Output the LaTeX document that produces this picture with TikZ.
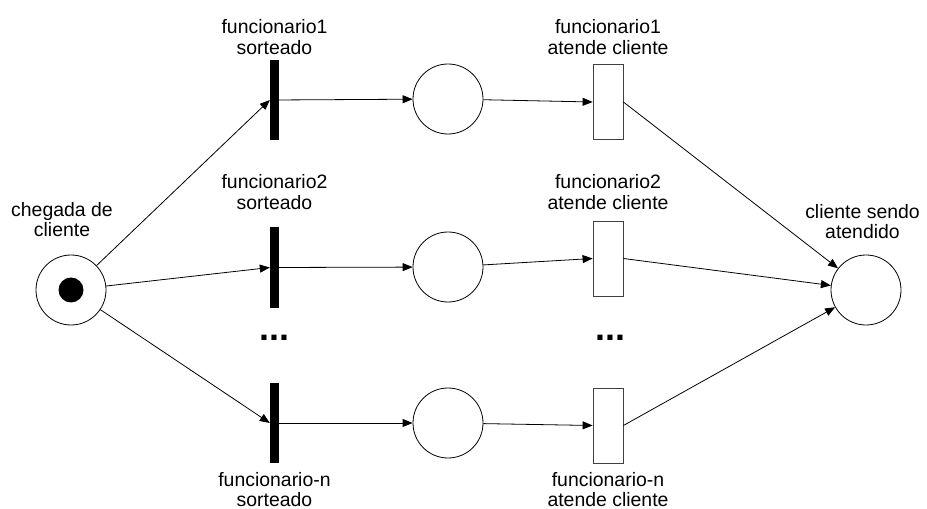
\documentclass[tikz,border=0pt]{standalone}
\usepackage{fontspec}
\setmainfont{Liberation Sans}
\usetikzlibrary{arrows.meta}
\begin{document}
\begin{tikzpicture}[x=1bp,y=-1bp,font=\fontsize{19.5}{20.5}\selectfont,
    >={Triangle[length=10bp,width=8bp]}]

        \useasboundingbox (0,0) rectangle (927,509);

        \begin{scope}[every node/.style={circle,draw,line width=0.8bp,minimum size=70bp,inner sep=0pt}]
          \node (c)  at (71,290)   {};
          \node (p1) at (448,99)   {};
          \node (p2) at (448,267)  {};
          \node (p3) at (448,423)  {};
          \node (s)  at (866,290)  {};
        \end{scope}

        \node[circle,fill,minimum size=25bp,inner sep=0pt] (tok) at (c) {};

        \begin{scope}[every node/.style={fill=black,minimum width=9bp,minimum height=80bp,inner sep=0pt}]
          \node (b1) at (274.5,100)   {};
          \node (b2) at (274.5,267.5) {};
          \node (b3) at (274.5,423)   {};
        \end{scope}

        \begin{scope}[every node/.style={draw=black!75,line width=0.8bp,minimum width=30bp,minimum height=75bp,inner sep=0pt}]
          \node (a1) at (608,102)   {};
          \node (a2) at (608,258.5) {};
          \node (a3) at (608,425.5) {};
        \end{scope}

        \begin{scope}[every node/.style={align=center,inner sep=0pt}]
          \node (lc)  at (62,219.5)   {chegada de\\cliente};
          \node (lb1) at (274.5,37)   {funcionario1\\sorteado};
          \node (la1) at (608,37)     {funcionario1\\atende cliente};
          \node (lb2) at (274.5,192)  {funcionario2\\sorteado};
          \node (la2) at (608,192)    {funcionario2\\atende cliente};
          \node (lb3) at (274.5,489.5) {funcionario-n\\sorteado};
          \node (la3) at (608,489.5)  {funcionario-n\\atende cliente};
          \node (ls)  at (862.5,221.5) {cliente sendo\\atendido};
        \end{scope}

        \begin{scope}[every node/.style={font=\fontsize{36}{36}\selectfont\bfseries,inner sep=0pt}]
          \node (d1) at (274.5,338) {...};
          \node (d2) at (610,338)   {...};
        \end{scope}

        \begin{scope}[every edge/.style={draw,->,line width=0.8bp}]
          \path (c)  edge (b1.west);
          \path (c)  edge (b2.west);
          \path (c)  edge (b3.west);
          \path (b1) edge (p1);
          \path (b2) edge (p2);
          \path (b3) edge (p3);
          \path (p1) edge (a1.west);
          \path (p2) edge (a2.west);
          \path (p3) edge (a3.west);
          \path (a1.east) edge (s);
          \path (a2.east) edge (s);
          \path (a3.east) edge (s);
        \end{scope}

      \end{tikzpicture}
\end{document}
